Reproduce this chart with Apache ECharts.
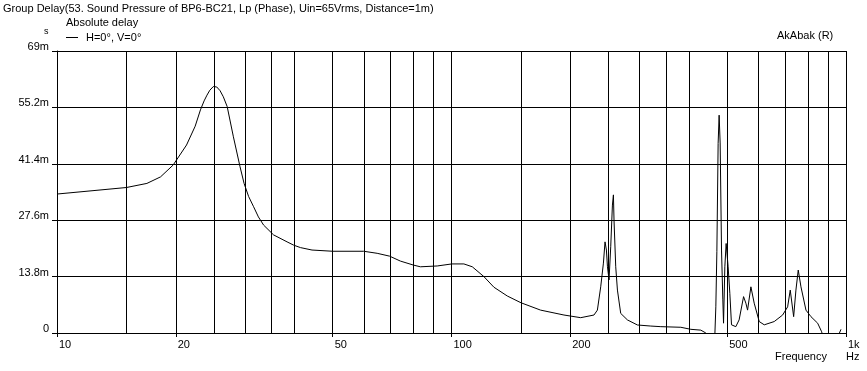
<!DOCTYPE html>
<html>
<head>
<meta charset="utf-8">
<script src="https://cdn.jsdelivr.net/npm/echarts@6/dist/echarts.min.js"></script>
<style>
html,body{margin:0;padding:0;background:#fff;}
#c{width:867px;height:371px;}
</style>
</head>
<body>
<div id="c"></div>
<script>
// Frequency (Hz) and absolute group delay (ms)
const freqs = [10, 15.0, 16.9, 18.3, 19.7, 21.3, 22.4, 23.1, 23.6, 24.0, 24.4, 24.9, 25.4, 25.9, 26.4, 27.0, 28.0, 29.1, 29.8, 30.6, 31.5, 32.4, 33.4, 35.4, 38.3, 39.8, 41.4, 44.3, 50.0, 59.9, 64.8, 69.7, 74.2, 80.2, 83.4, 92.0, 100.2, 107.5, 112.9, 120.8, 128.1, 138.5, 150.0, 168.2, 192.8, 212.6, 229.7, 234.3, 238.9, 242.7, 245.0, 247.0, 248.5, 250.8, 253.3, 255.8, 257.3, 258.2, 260.8, 263.4, 268.5, 279.2, 296.0, 320.0, 339.3, 381.3, 404.3, 428.5, 441.3, 451.7, 465.1, 467.8, 470.6, 474.1, 476.9, 479.7, 483.6, 487.3, 489.3, 493.0, 496.8, 500.8, 502.6, 507.6, 512.6, 525.6, 535.9, 550.0, 557.4, 563.0, 574.0, 585.2, 602.6, 620.5, 657.7, 690.8, 711.3, 722.2, 736.7, 746.6, 756.7, 768.8, 791.6, 815.0, 847.6, 867.6, 884.6, 952.6, 971.2];
const delayMs = [34.0, 35.6, 36.6, 38.2, 41.1, 46.0, 50.6, 54.6, 56.8, 58.2, 59.4, 60.3, 60.2, 59.3, 57.8, 55.4, 48.0, 40.7, 36.6, 33.4, 30.9, 28.4, 26.4, 24.0, 22.3, 21.5, 20.9, 20.3, 20.0, 20.0, 19.5, 18.8, 17.6, 16.6, 16.2, 16.4, 16.9, 16.9, 16.2, 13.8, 11.2, 9.05, 7.4, 5.6, 4.4, 3.75, 4.4, 5.6, 11.3, 17.1, 22.3, 20.3, 16.2, 13.0, 21.1, 31.3, 33.8, 27.6, 16.2, 10.5, 4.8, 3.2, 1.96, 1.7, 1.55, 1.4, 0.9, 0.7, 0.0, -3.0, -0.5, 6.4, 19.9, 46.4, 53.3, 46.5, 20.3, 8.1, 2.4, 16.2, 21.9, 21.9, 16.2, 9.7, 2.0, 1.55, 3.2, 8.9, 7.3, 5.6, 11.3, 7.3, 2.8, 2.0, 2.8, 4.4, 6.4, 10.5, 4.0, 10.5, 15.4, 11.3, 5.6, 4.0, 2.4, 0.3, -3.0, -1.0, 0.9];
const gridFreqs = [15, 20, 25, 30, 35, 40, 50, 60, 70, 80, 90, 100, 150, 200, 250, 300, 350, 400, 500, 600, 700, 800, 900, 1000];
const xLabelFreqs = [10, 20, 50, 100, 200, 500, 1000];
const yTicks = [0, 13.8, 27.6, 41.4, 55.2, 69];

const FONT = 'Liberation Sans';
const chart = echarts.init(document.getElementById('c'), null, {renderer: 'canvas'});
const pts = freqs.map((f, i) => [f, delayMs[i]]);

chart.setOption({
  backgroundColor: '#fff',
  animation: false,
  textStyle: {fontFamily: FONT, color: '#000'},
  grid: {left: 57, right: 21, top: 51, bottom: 38, containLabel: false},
  legend: {
    left: 66, top: 32, padding: 0, itemWidth: 12, itemHeight: 1, itemGap: 4,
    textStyle: {fontFamily: FONT, fontSize: 11, color: '#000', padding: [0, 0, 0, 3]},
    data: [{name: 'H=0°, V=0°', icon: 'rect'}]
  },
  xAxis: {
    type: 'log', logBase: 10, min: 10, max: 1000,
    axisLine: {show: true, lineStyle: {color: '#000', width: 1}},
    axisTick: {show: true, length: 4, customValues: xLabelFreqs, lineStyle: {color: '#000'}},
    axisLabel: {
      customValues: xLabelFreqs, align: 'left', margin: 6,
      fontFamily: FONT, fontSize: 11, color: '#000', padding: [0, 0, 0, 2],
      formatter: v => v >= 1000 ? (v / 1000) + 'k' : String(v)
    },
    splitLine: {show: false},
    minorTick: {show: false}
  },
  yAxis: {
    type: 'value', min: 0, max: 69, interval: 13.8,
    axisLine: {show: true, lineStyle: {color: '#000', width: 1}},
    axisTick: {show: true, length: 5, lineStyle: {color: '#000'}},
    axisLabel: {
      margin: 8, fontFamily: FONT, fontSize: 11, color: '#000',
      verticalAlign: 'bottom', lineHeight: 8,
      formatter: v => {
        const r = Math.round(v * 10) / 10;
        return r === 0 ? '0' : r + 'm';
      }
    },
    splitLine: {show: true, lineStyle: {color: '#000', width: 1}}
  },
  series: [{
    name: 'H=0°, V=0°',
    type: 'line',
    data: pts,
    symbol: 'none',
    clip: true,
    lineStyle: {color: '#000', width: 1},
    itemStyle: {color: '#000'},
    markLine: {
      silent: true, symbol: ['none', 'none'],
      label: {show: false},
      lineStyle: {color: '#000', width: 1, type: 'solid'},
      data: gridFreqs.map(f => ({xAxis: f}))
    }
  }],
  graphic: [
    {type: 'text', left: 3, top: 3, style: {text: 'Group Delay(53. Sound Pressure of BP6-BC21, Lp (Phase), Uin=65Vrms, Distance=1m)', font: '11px "Liberation Sans"', fill: '#000'}},
    {type: 'text', left: 66, top: 17, style: {text: 'Absolute delay', font: '11px "Liberation Sans"', fill: '#000'}},
    {type: 'text', left: 44, top: 27, style: {text: 's', font: '9px "Liberation Sans"', fill: '#000'}},
    {type: 'text', left: 777, top: 30, style: {text: 'AkAbak (R)', font: '11px "Liberation Sans"', fill: '#000'}},
    {type: 'text', left: 775, top: 351, style: {text: 'Frequency', font: '11px "Liberation Sans"', fill: '#000'}},
    {type: 'text', left: 846, top: 351, style: {text: 'Hz', font: '11px "Liberation Sans"', fill: '#000'}}
  ]
});
</script>
</body>
</html>
